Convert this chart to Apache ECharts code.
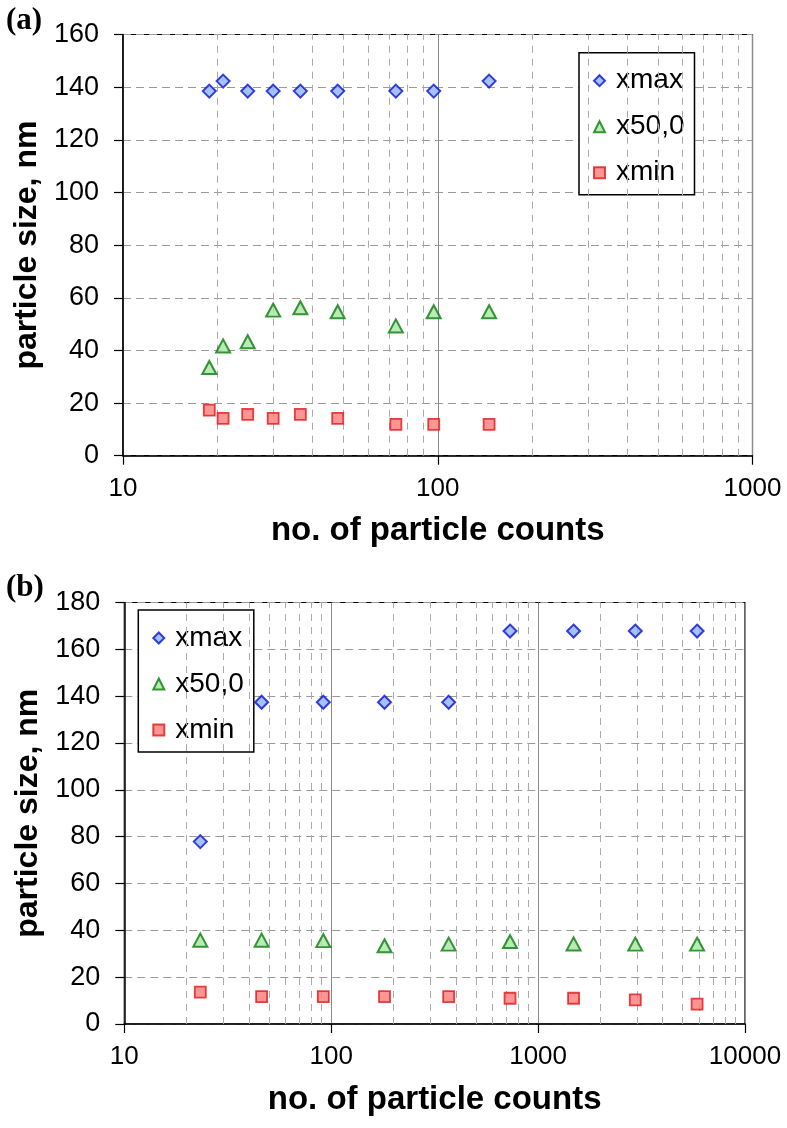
<!DOCTYPE html>
<html>
<head>
<meta charset="utf-8">
<script src="https://cdn.jsdelivr.net/npm/echarts@6/dist/echarts.min.js"></script>
<style>
  html, body { margin: 0; padding: 0; background: #fff; }
  #chart { width: 787px; height: 1128px; }
</style>
</head>
<body>
<div id="chart"></div>
<script>
// ---- Panel (a) data ----
const topCounts = [18.8, 20.8, 24.9, 30.0, 36.6, 48.1, 73.6, 97.1, 145.6];
const topXmax   = [138.5, 142.3, 138.5, 138.5, 138.5, 138.5, 138.5, 138.5, 142.3];
const topX50    = [33.5, 41.7, 43.3, 55.3, 56.2, 54.7, 49.3, 54.7, 54.7];
const topXmin   = [17.3, 14.2, 15.7, 14.2, 15.7, 14.2, 11.9, 11.9, 11.9];

// ---- Panel (b) data ----
const botCounts = [23.3, 46.1, 91.6, 181, 369.6, 731.8, 1484, 2949, 5868];
const botXmax   = [77.9, 137.4, 137.4, 137.4, 137.4, 167.8, 167.8, 167.8, 167.8];
const botX50    = [35.8, 35.8, 35.6, 33.4, 34.1, 35.2, 34.2, 34.1, 34.1];
const botXmin   = [13.6, 11.7, 11.7, 11.7, 11.7, 11.0, 11.0, 10.3, 8.5];

// ---- Axis settings ----
const seriesNames = ['xmax', 'x50,0', 'xmin'];
const topYMax = 160, botYMax = 180, yStep = 20;
const topXMin = 10, topXMax = 1000, botXMin = 10, botXMax = 10000;
const topMinorGrid = [20, 30, 40, 50, 60, 70, 80, 90, 200, 300, 400, 500, 600, 700, 800, 900];
const botMinorGrid = [20, 30, 40, 50, 60, 70, 80, 90, 200, 300, 400, 500, 600, 700, 800, 900,
                      2000, 3000, 4000, 5000, 6000, 7000, 8000, 9000];
const xTitle = 'no. of particle counts';
const yTitle = 'particle size, nm';

const SANS = '"Liberation Sans", Arial, sans-serif';

const markerStyles = {
  'xmax':  { symbol: 'diamond',  symbolSize: [13, 13], itemStyle: { color: '#8fb2ff', borderColor: '#0a14cc', borderWidth: 2 } },
  'x50,0': { symbol: 'triangle', symbolSize: [14, 13], itemStyle: { color: '#a6e6a3', borderColor: '#0d7a0d', borderWidth: 2 } },
  'xmin':  { symbol: 'rect',     symbolSize: [11, 11], itemStyle: { color: '#ff7a7a', borderColor: '#e01818', borderWidth: 1.8 } }
};

function pairs(xs, ys) { return xs.map((x, i) => [x, ys[i]]); }

function xAxisCfg(gi, min, max) {
  return {
    gridIndex: gi, type: 'log', logBase: 10, min: min, max: max,
    name: xTitle, nameLocation: 'middle', nameGap: 59,
    nameTextStyle: { fontFamily: SANS, fontWeight: 'bold', fontSize: 33, color: '#000' },
    axisLine: { show: true, lineStyle: { color: '#000', width: 1.5 } },
    axisTick: { show: true, inside: false, length: 9, lineStyle: { color: '#000', width: 1.2 } },
    axisLabel: { fontFamily: SANS, fontSize: 26, color: '#000', margin: 20,
                 formatter: v => String(Math.round(v)) },
    splitLine: { show: true, lineStyle: { color: '#8a8a8a', width: 1, type: 'solid' } },
    minorTick: { show: false }
  };
}
function yAxisCfg(gi, max) {
  return {
    gridIndex: gi, type: 'value', min: 0, max: max, interval: yStep,
    name: yTitle, nameLocation: 'middle', nameGap: 77, nameRotate: 90,
    nameTextStyle: { fontFamily: SANS, fontWeight: 'bold', fontSize: 32, color: '#000' },
    axisLine: { show: true, lineStyle: { color: '#000', width: 1.5 } },
    axisTick: { show: true, inside: false, length: 9, lineStyle: { color: '#000', width: 1.2 } },
    axisLabel: { fontFamily: SANS, fontSize: 27, color: '#000', margin: 24 },
    splitLine: { show: true, lineStyle: { color: '#9a9a9a', width: 1, type: [8, 5] } }
  };
}

function panelSeries(gi, xs, ymax, y50, ymin, minorGrid) {
  const out = [];
  out.push({
    type: 'scatter', name: '__grid' + gi, xAxisIndex: gi, yAxisIndex: gi, data: [],
    silent: true, z: 1,
    markLine: {
      silent: true, symbol: ['none', 'none'], label: { show: false },
      lineStyle: { color: '#ababab', width: 1, type: [7, 6] },
      emphasis: { disabled: true },
      data: minorGrid.map(v => ({ xAxis: v }))
    }
  });
  const ys = [ymax, y50, ymin];
  seriesNames.forEach((n, k) => {
    const m = markerStyles[n];
    out.push({
      type: 'scatter', name: n, xAxisIndex: gi, yAxisIndex: gi, z: 5,
      symbol: m.symbol, symbolSize: m.symbolSize, itemStyle: m.itemStyle,
      data: pairs(xs, ys[k])
    });
  });
  return out;
}

function legendCfg(gi, left, top) {
  return {
    show: true, orient: 'vertical', left: left, top: top,
    data: seriesNames.map(n => ({ name: n })),
    backgroundColor: '#fff', borderColor: '#000', borderWidth: 1.5, borderRadius: 0,
    padding: [14, 10, 8, 14], itemGap: 18, itemWidth: 11, itemHeight: 11,
    textStyle: { fontFamily: SANS, fontSize: 28, color: '#000', padding: [0, 0, 0, 6] },
    selectedMode: false
  };
}

const chart = echarts.init(document.getElementById('chart'), null, { renderer: 'canvas' });
chart.setOption({
  animation: false,
  backgroundColor: '#fff',
  grid: [
    { left: 123, top: 34.5, width: 629.5, height: 421.2, show: true, borderColor: '#000', borderWidth: 1.2, backgroundColor: 'transparent' },
    { left: 124.3, top: 602.5, width: 620.7, height: 421.5, show: true, borderColor: '#000', borderWidth: 1.2, backgroundColor: 'transparent' }
  ],
  xAxis: [xAxisCfg(0, topXMin, topXMax), xAxisCfg(1, botXMin, botXMax)],
  yAxis: [yAxisCfg(0, topYMax), yAxisCfg(1, botYMax)],
  legend: [legendCfg(0, 579, 52.7), legendCfg(1, 138.3, 610)],
  graphic: [
    { type: 'text', left: 6, top: 5, style: { text: '(a)', font: 'bold 31px "Liberation Serif", "Times New Roman", serif', fill: '#000' } },
    { type: 'text', left: 6, top: 572, style: { text: '(b)', font: 'bold 31px "Liberation Serif", "Times New Roman", serif', fill: '#000' } }
  ],
  series: [].concat(
    panelSeries(0, topCounts, topXmax, topX50, topXmin, topMinorGrid),
    panelSeries(1, botCounts, botXmax, botX50, botXmin, botMinorGrid)
  )
});
</script>
</body>
</html>
